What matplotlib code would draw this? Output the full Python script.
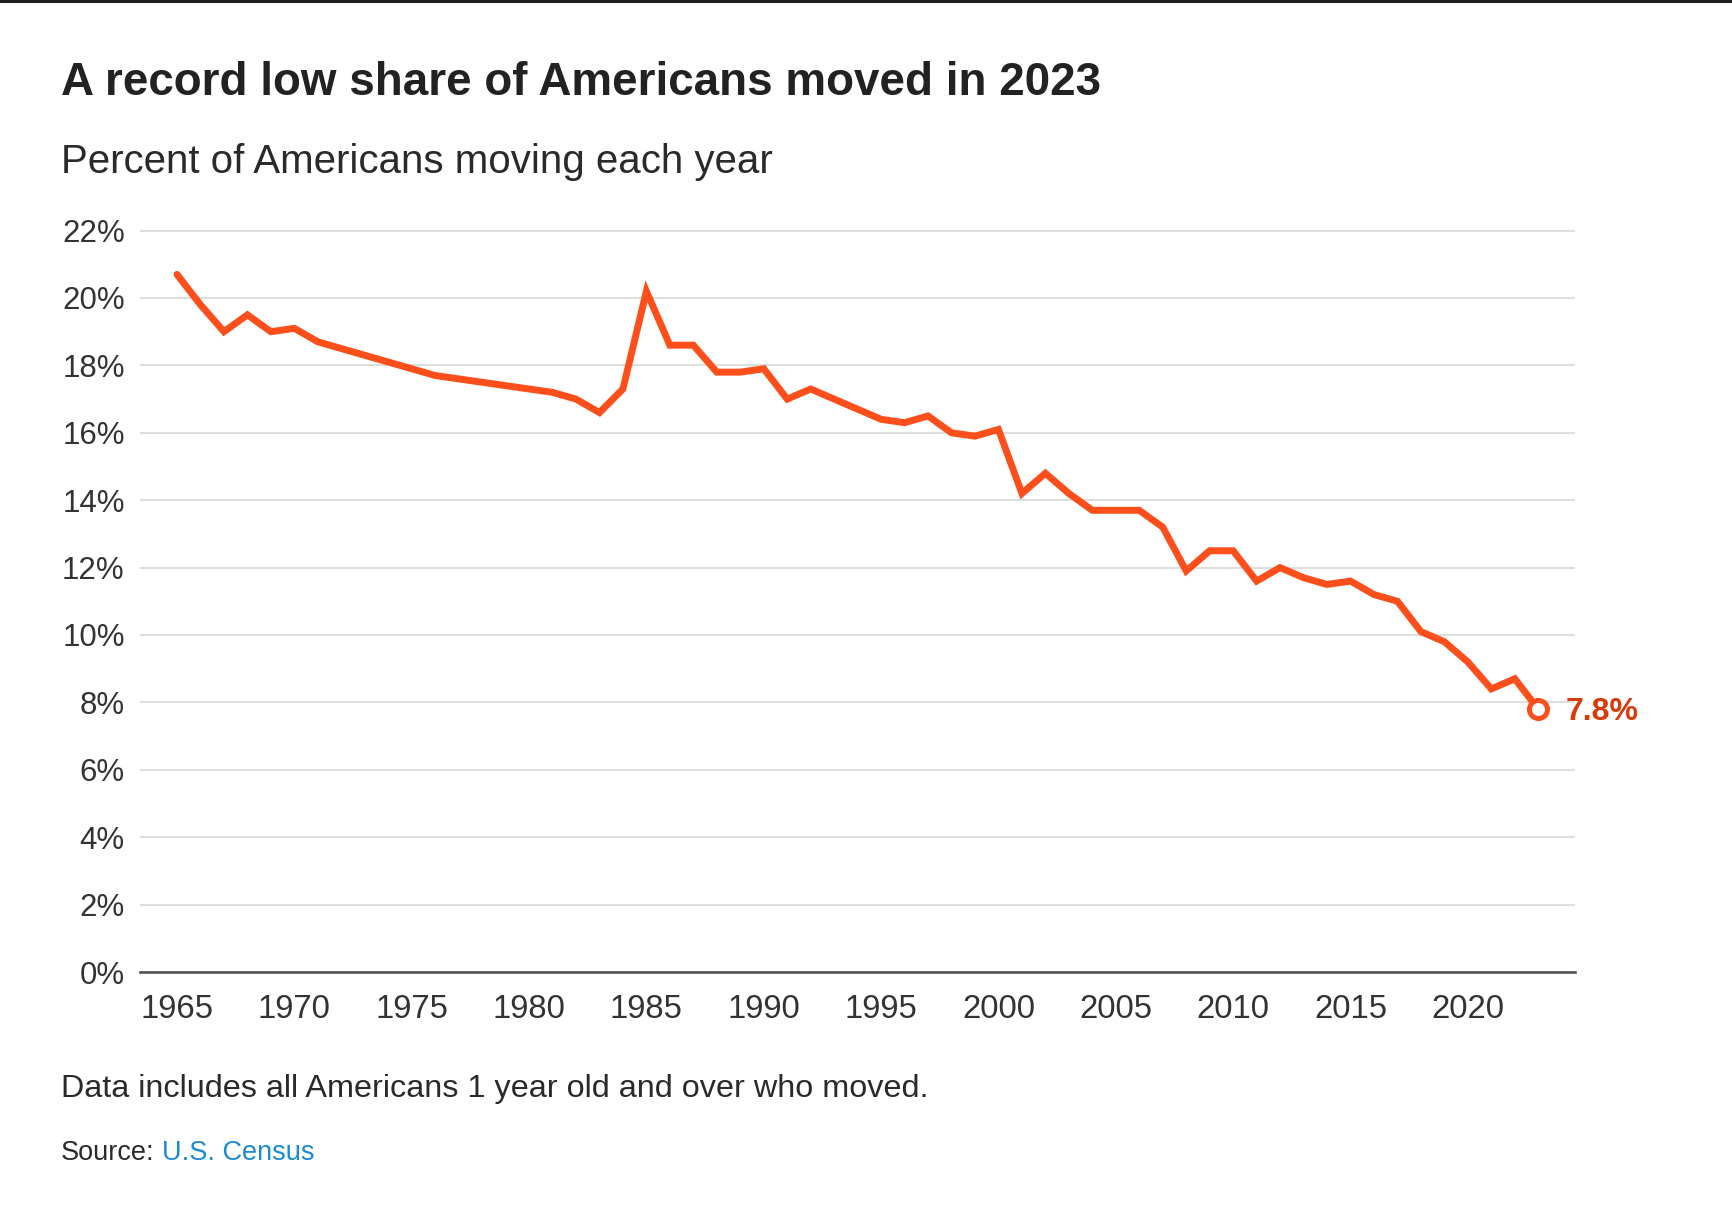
import matplotlib
matplotlib.use("Agg")
import matplotlib.pyplot as plt
from matplotlib.patches import Rectangle

# ---------------- data ----------------
years = [1965, 1966, 1967, 1968, 1969, 1970, 1971, 1976, 1981, 1982, 1983, 1984,
         1985, 1986, 1987, 1988, 1989, 1990, 1991, 1992, 1993, 1994, 1995, 1996,
         1997, 1998, 1999, 2000, 2001, 2002, 2003, 2004, 2005, 2006, 2007, 2008,
         2009, 2010, 2011, 2012, 2013, 2014, 2015, 2016, 2017, 2018, 2019, 2020,
         2021, 2022, 2023]
pct_moved = [20.7, 19.8, 19.0, 19.5, 19.0, 19.1, 18.7, 17.7, 17.2, 17.0, 16.6, 17.3,
             20.2, 18.6, 18.6, 17.8, 17.8, 17.9, 17.0, 17.3, 17.0, 16.7, 16.4, 16.3,
             16.5, 16.0, 15.9, 16.1, 14.2, 14.8, 14.2, 13.7, 13.7, 13.7, 13.2, 11.9,
             12.5, 12.5, 11.6, 12.0, 11.7, 11.5, 11.6, 11.2, 11.0, 10.1, 9.8, 9.2,
             8.4, 8.7, 7.8]
y_ticks = [0, 2, 4, 6, 8, 10, 12, 14, 16, 18, 20, 22]
x_ticks = [1965, 1970, 1975, 1980, 1985, 1990, 1995, 2000, 2005, 2010, 2015, 2020]
last_label = "7.8%"

title = "A record low share of Americans moved in 2023"
subtitle = "Percent of Americans moving each year"
note = "Data includes all Americans 1 year old and over who moved."
source_prefix = "Source: "
source_link = "U.S. Census"

# ---------------- style ----------------
W, H = 1732, 1206
LINE = "#fd4f1c"
LABEL = "#d93a0c"
TXT = "#222222"
TICK = "#333333"
GRID = "#dedede"
FONT = "Liberation Sans"

plt.rcParams["font.family"] = [FONT, "DejaVu Sans"]

fig = plt.figure(figsize=(W / 100, H / 100), dpi=100)
fig.patch.set_facecolor("white")

def fx(px):
    return px / W

def fy(py):
    return 1 - py / H

# axes placement (pixels)
ax_left, ax_right = 140, 1575
y0_px, per_pct = 972, 33.7
ymax = 22.2
ax_top = y0_px - ymax * per_pct
ax = fig.add_axes([fx(ax_left), 1 - y0_px / H, (ax_right - ax_left) / W, (y0_px - ax_top) / H])

xmin = 1965 - (177 - ax_left) / 23.47
xmax = 1965 + (ax_right - 177) / 23.47
ax.set_xlim(xmin, xmax)
ax.set_ylim(0, ymax)

ax.set_yticks(y_ticks)
ax.set_yticklabels([f"{v}%" for v in y_ticks])
ax.set_xticks(x_ticks)
ax.set_xticklabels([str(v) for v in x_ticks])

ax.grid(axis="y", color=GRID, linewidth=1.5)
ax.grid(axis="x", visible=False)
ax.set_axisbelow(True)
for s in ["top", "right", "left"]:
    ax.spines[s].set_visible(False)
ax.spines["bottom"].set_color("#555555")
ax.spines["bottom"].set_linewidth(1.9)
ax.spines["bottom"].set_zorder(3)

ax.tick_params(axis="y", length=0, pad=11, labelsize=22.5, labelcolor=TICK)
ax.tick_params(axis="x", length=0, pad=16, labelsize=23.7, labelcolor=TICK)
ax.set_facecolor("white")

ax.plot(years, pct_moved, color=LINE, linewidth=5.0, solid_joinstyle="miter",
        solid_capstyle="round", zorder=4, clip_on=False)
ax.plot([years[-1]], [pct_moved[-1]], marker="o", markersize=13, markeredgewidth=3.6,
        markerfacecolor="white", markeredgecolor=LINE, zorder=5, clip_on=False)
ax.annotate(last_label, xy=(years[-1], pct_moved[-1]), xytext=(20, -8),
            textcoords="offset points", ha="left", va="baseline",
            fontsize=23, fontweight="bold", color=LABEL, annotation_clip=False)

# top dark rule
fig.add_artist(Rectangle((0, fy(3)), 1, 3 / H, transform=fig.transFigure,
                         facecolor="#1e1e1e", edgecolor="none"))

# texts
renderer = fig.canvas.get_renderer()

def fitted(x, y, s, width_px, size, **kw):
    t = fig.text(fx(x), fy(y), s, fontsize=size, va="baseline", ha="left", **kw)
    w = t.get_window_extent(renderer).width
    t.set_fontsize(size * width_px / w)
    return t

fitted(61, 95, title, 1040, 32, fontweight="bold", color=TXT)
fitted(61, 173, subtitle, 711, 28, color="#2a2a2a")
fitted(61, 1097, note, 864, 22, color="#2a2a2a")

# source line: fit the whole line, then split in two colours
probe = fitted(61, 1160, source_prefix + source_link, 253, 19, color="#2a2a2a")
src_size = probe.get_fontsize()
probe.set_text(source_prefix.rstrip())
prefix_w = fig.text(0, 0, source_prefix.replace(" ", "\u00a0"), fontsize=src_size)
pw = prefix_w.get_window_extent(renderer).width
prefix_w.remove()
fig.text(fx(61 + pw), fy(1160), source_link, fontsize=src_size, va="baseline",
         ha="left", color="#1a8ad4")

fig.savefig("out.png", dpi=100, facecolor="white")
